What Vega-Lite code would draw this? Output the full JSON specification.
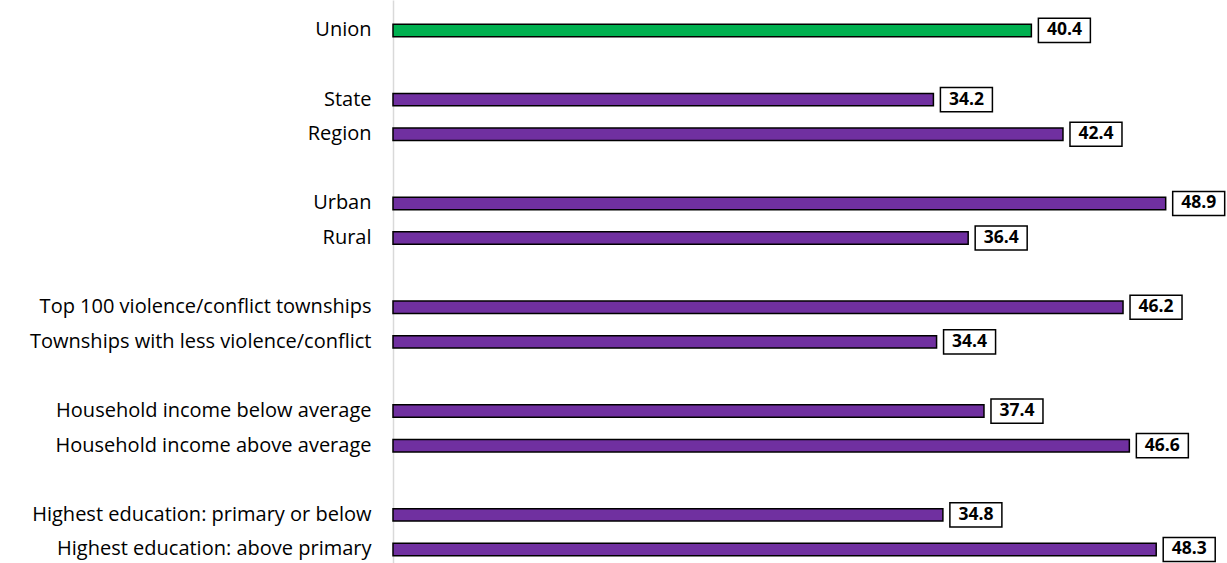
{
  "$schema": "https://vega.github.io/schema/vega-lite/v6.json",
  "width": 834,
  "height": 563,
  "autosize": {"type": "none"},
  "padding": {"left": 393, "top": 0, "right": 0, "bottom": 0},
  "background": "white",
  "config": {"view": {"stroke": null}, "font": "Open Sans"},
  "data": {
    "values": [
      {"label": "Union", "value": 40.4, "type": "union"},
      {"label": "State", "value": 34.2, "type": "sub"},
      {"label": "Region", "value": 42.4, "type": "sub"},
      {"label": "Urban", "value": 48.9, "type": "sub"},
      {"label": "Rural", "value": 36.4, "type": "sub"},
      {"label": "Top 100 violence/conflict townships", "value": 46.2, "type": "sub"},
      {"label": "Townships with less violence/conflict", "value": 34.4, "type": "sub"},
      {"label": "Household income below average", "value": 37.4, "type": "sub"},
      {"label": "Household income above average", "value": 46.6, "type": "sub"},
      {"label": "Highest education: primary or below", "value": 34.8, "type": "sub"},
      {"label": "Highest education: above primary", "value": 48.3, "type": "sub"}
    ]
  },
  "encoding": {
    "y": {
      "field": "label",
      "type": "nominal",
      "sort": null,
      "scale": {
        "domain": ["Union", "gap1", "State", "Region", "gap2", "Urban", "Rural", "gap3",
          "Top 100 violence/conflict townships", "Townships with less violence/conflict", "gap4",
          "Household income below average", "Household income above average", "gap5",
          "Highest education: primary or below", "Highest education: above primary"],
        "paddingInner": 0.25,
        "paddingOuter": 0.26,
        "align": 0.97
      },
      "axis": {
        "title": null,
        "ticks": false,
        "grid": false,
        "domainColor": "#D9D9D9",
        "domainWidth": 1.5,
        "labelPadding": 22,
        "labelFont": "Open Sans",
        "labelFontSize": 20,
        "labelColor": "#000000",
        "labelLimit": 400,
        "labelExpr": "indexof(datum.value, 'gap') == 0 ? '' : datum.value"
      }
    }
  },
  "layer": [
    {
      "mark": {"type": "bar", "stroke": "black", "strokeWidth": 1.5, "height": {"band": 0.48}},
      "encoding": {
        "x": {"field": "value", "type": "quantitative", "scale": {"domain": [0, 52.78], "nice": false, "zero": true}, "axis": null},
        "color": {"field": "type", "type": "nominal", "scale": {"domain": ["union", "sub"], "range": ["#00B050", "#7030A0"]}, "legend": null}
      }
    },
    {
      "mark": {"type": "bar", "fill": "white", "stroke": "black", "strokeWidth": 1.5, "height": {"band": 0.93}, "xOffset": 7, "x2Offset": 59},
      "encoding": {
        "x": {"field": "value", "type": "quantitative"},
        "x2": {"field": "value"}
      }
    },
    {
      "mark": {"type": "text", "font": "Open Sans", "fontSize": 17.5, "fontWeight": "bold", "color": "black", "align": "center", "baseline": "middle", "dx": 33},
      "encoding": {
        "x": {"field": "value", "type": "quantitative"},
        "text": {"field": "value", "type": "quantitative", "format": ".1f"}
      }
    }
  ]
}
